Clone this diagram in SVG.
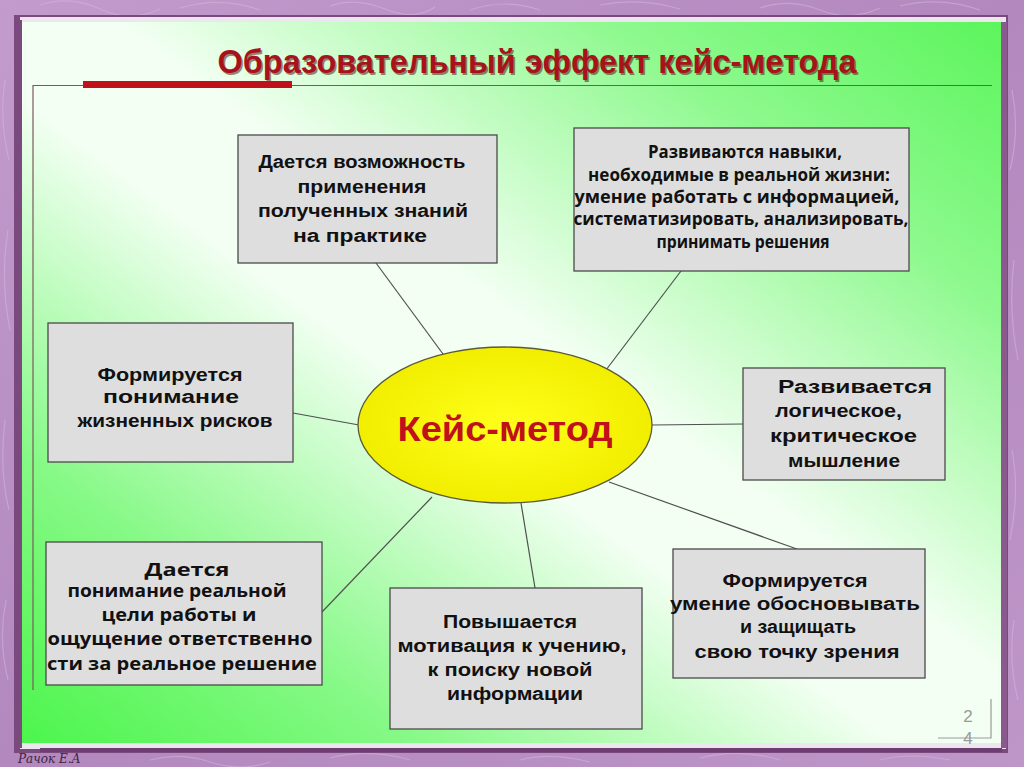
<svg xmlns="http://www.w3.org/2000/svg" width="1024" height="767" viewBox="0 0 1024 767">
  <defs>
    <linearGradient id="bgPurple" x1="0" y1="0" x2="1" y2="1">
      <stop offset="0" stop-color="#c39bcc"/>
      <stop offset="0.5" stop-color="#b288be"/>
      <stop offset="1" stop-color="#bf96c8"/>
    </linearGradient>
    <linearGradient id="slideGrad" x1="0" y1="1" x2="1" y2="0">
      <stop offset="0" stop-color="#4cf54c"/>
      <stop offset="0.2" stop-color="#86f986"/>
      <stop offset="0.45" stop-color="#f4fff4"/>
      <stop offset="0.55" stop-color="#f2fff2"/>
      <stop offset="0.8" stop-color="#8ef98e"/>
      <stop offset="1" stop-color="#5cf55c"/>
    </linearGradient>
    <radialGradient id="ellGrad" cx="0.5" cy="0.5" r="0.5">
      <stop offset="0" stop-color="#ffff1a"/>
      <stop offset="1" stop-color="#f2ee00"/>
    </radialGradient>
  </defs>
  <style>
    .box { fill: #dedede; stroke: #4a4a4a; stroke-width: 1.3; }
    .conn line { stroke: #505050; stroke-width: 1.2; }
    .ta { font-family: "Liberation Sans", Arial, sans-serif; font-weight: bold; font-size: 18px; fill: #111; }
    .tc { font-family: "Open Sans", "Liberation Sans", sans-serif; font-weight: bold; font-size: 17px; fill: #111; }
    .mid { text-anchor: middle; }
  </style>

  <!-- purple textured backdrop -->
  <rect x="0" y="0" width="1024" height="767" fill="url(#bgPurple)"/>
  <g fill="none" stroke="#d6b8dc" stroke-width="1.2" opacity="0.55">
    <path d="M40 5 q30 -10 60 4 t60 0 M180 8 q40 -12 80 2 M330 6 q25 -9 55 3 t50 -2 M470 10 q35 -12 70 0 M600 5 q40 -8 80 4 M760 8 q30 -10 60 2 t60 -2 M900 6 q40 -10 80 4"/>
    <path d="M5 80 q-6 40 4 80 M8 230 q-8 50 2 100 M5 420 q-6 50 4 90 M6 600 q-8 40 2 80"/>
    <path d="M1012 90 q8 40 -2 80 M1014 260 q-6 50 4 100 M1012 450 q8 40 -2 90 M1014 620 q-6 40 4 80"/>
    <path d="M150 760 q30 -8 60 2 t60 0 M330 758 q40 -10 80 2 M520 760 q30 -8 70 2 M700 758 q40 -10 80 2 M880 760 q30 -8 70 0"/>
  </g>

  <!-- slide frame and paper -->
  <rect x="14" y="15" width="994" height="738" fill="#7a4a7e"/>
  <rect x="20" y="17" width="986" height="732" fill="#ece6ee"/>
  <rect x="16" y="20" width="6" height="728" fill="#7a4a7e"/>
  <rect x="1001" y="22" width="6" height="726" fill="#8a5a8e"/>
  <rect x="40" y="748" width="962" height="4" fill="#6e3e72"/>
  <rect x="22" y="22" width="979" height="721" fill="url(#slideGrad)"/>

  <!-- title -->
  <g id="title">
    <text x="538.5" y="74.5" class="mid" font-family="'Liberation Sans', Arial, sans-serif" font-weight="bold" font-size="34" fill="#4a0a0a" opacity="0.5" textLength="639" lengthAdjust="spacingAndGlyphs">Образовательный эффект кейс-метода</text>
    <text x="537" y="73" class="mid" font-family="'Liberation Sans', Arial, sans-serif" font-weight="bold" font-size="34" fill="#a8121a" textLength="639" lengthAdjust="spacingAndGlyphs">Образовательный эффект кейс-метода</text>
  </g>
  <g id="title-rule">
    <path d="M33 690 V85.5 H992" fill="none" stroke="#7a5a5a" stroke-width="1.2"/>
    <rect x="83" y="81" width="209" height="7" fill="#c0101a"/>
  </g>

  <!-- connectors -->
  <g id="connectors" class="conn">
    <line x1="376" y1="263" x2="443" y2="354"/>
    <line x1="681" y1="271" x2="606" y2="370"/>
    <line x1="293" y1="413" x2="359" y2="425"/>
    <line x1="743" y1="424" x2="652" y2="425"/>
    <line x1="322" y1="612" x2="432" y2="497"/>
    <line x1="535" y1="588" x2="521" y2="503"/>
    <line x1="797" y1="549" x2="609" y2="482"/>
  </g>

  <!-- center -->
  <g id="node-center">
    <ellipse cx="505" cy="425" rx="147" ry="78" fill="url(#ellGrad)" stroke="#5a5a3a" stroke-width="1.3"/>
    <text x="505" y="441" class="mid" font-family="'Liberation Sans', Arial, sans-serif" font-weight="bold" font-size="35" fill="#c0101a" textLength="215" lengthAdjust="spacingAndGlyphs">Кейс-метод</text>
  </g>

  <g id="node-practice">
    <rect class="box" x="238" y="135" width="259" height="128"/>
    <text class="ta mid" x="362" y="168" textLength="207" lengthAdjust="spacingAndGlyphs">Дается возможность</text>
    <text class="ta mid" x="362" y="193" textLength="129" lengthAdjust="spacingAndGlyphs">применения</text>
    <text class="ta mid" x="363" y="217" textLength="210" lengthAdjust="spacingAndGlyphs">полученных знаний</text>
    <text class="ta mid" x="360" y="242" textLength="134" lengthAdjust="spacingAndGlyphs">на практике</text>
  </g>

  <g id="node-skills">
    <rect class="box" x="574" y="128" width="335" height="143"/>
    <text class="tc mid" x="745" y="158" textLength="194" lengthAdjust="spacingAndGlyphs">Развиваются навыки,</text>
    <text class="tc mid" x="739" y="181" textLength="302" lengthAdjust="spacingAndGlyphs">необходимые в реальной жизни:</text>
    <text class="tc mid" x="737" y="203" textLength="325" lengthAdjust="spacingAndGlyphs">умение работать  с информацией,</text>
    <text class="tc mid" x="741" y="225" textLength="335" lengthAdjust="spacingAndGlyphs">систематизировать, анализировать,</text>
    <text class="tc mid" x="743" y="248" textLength="173" lengthAdjust="spacingAndGlyphs">принимать решения</text>
  </g>

  <g id="node-risks">
    <rect class="box" x="48" y="323" width="245" height="139"/>
    <text class="ta mid" x="170" y="381" textLength="145" lengthAdjust="spacingAndGlyphs">Формируется</text>
    <text class="ta mid" x="171" y="403" textLength="136" lengthAdjust="spacingAndGlyphs">понимание</text>
    <text class="ta mid" x="175" y="427" textLength="195" lengthAdjust="spacingAndGlyphs">жизненных  рисков</text>
  </g>

  <g id="node-thinking">
    <rect class="box" x="743" y="368" width="202" height="112"/>
    <text class="ta" x="778" y="393" textLength="154" lengthAdjust="spacingAndGlyphs">Развивается</text>
    <text class="ta" x="775" y="417" textLength="127" lengthAdjust="spacingAndGlyphs">логическое,</text>
    <text class="ta" x="770" y="442" textLength="147" lengthAdjust="spacingAndGlyphs">критическое</text>
    <text class="ta" x="788" y="467" textLength="112" lengthAdjust="spacingAndGlyphs">мышление</text>
  </g>

  <g id="node-responsibility">
    <rect class="box" x="46" y="542" width="276" height="143"/>
    <text class="tc mid" x="187" y="576" textLength="85" lengthAdjust="spacingAndGlyphs">Дается</text>
    <text class="tc mid" x="177" y="597" textLength="219" lengthAdjust="spacingAndGlyphs">понимание реальной</text>
    <text class="tc mid" x="179" y="621" textLength="155" lengthAdjust="spacingAndGlyphs">цели работы и</text>
    <text class="tc mid" x="180" y="645" textLength="265" lengthAdjust="spacingAndGlyphs">ощущение ответственно</text>
    <text class="tc mid" x="182" y="670" textLength="270" lengthAdjust="spacingAndGlyphs">сти за реальное решение</text>
  </g>

  <g id="node-motivation">
    <rect class="box" x="390" y="588" width="252" height="141"/>
    <text class="ta mid" x="510" y="628" textLength="134" lengthAdjust="spacingAndGlyphs">Повышается</text>
    <text class="ta mid" x="512" y="652" textLength="229" lengthAdjust="spacingAndGlyphs">мотивация к учению,</text>
    <text class="ta mid" x="510" y="676" textLength="165" lengthAdjust="spacingAndGlyphs">к поиску новой</text>
    <text class="ta mid" x="515" y="700" textLength="136" lengthAdjust="spacingAndGlyphs">информации</text>
  </g>

  <g id="node-defend">
    <rect class="box" x="673" y="549" width="252" height="129"/>
    <text class="ta mid" x="795" y="587" textLength="145" lengthAdjust="spacingAndGlyphs">Формируется</text>
    <text class="ta mid" x="795" y="610" textLength="250" lengthAdjust="spacingAndGlyphs">умение обосновывать</text>
    <text class="ta mid" x="798" y="633" textLength="116" lengthAdjust="spacingAndGlyphs">и защищать</text>
    <text class="ta mid" x="797" y="658" textLength="205" lengthAdjust="spacingAndGlyphs">свою точку зрения</text>
  </g>

  <!-- page number -->
  <g id="page-number">
    <path d="M991 699 V738 H938" fill="none" stroke="#9a9a9a" stroke-width="1.2"/>
    <text x="968" y="722" class="mid" font-family="'Liberation Sans', Arial, sans-serif" font-size="17" fill="#999">2</text>
    <text x="968" y="744" class="mid" font-family="'Liberation Sans', Arial, sans-serif" font-size="17" fill="#999">4</text>
  </g>

  <text x="18" y="763" font-family="'DejaVu Serif', serif" font-style="italic" font-size="12" fill="#3e2440">Рачок Е.А</text>
</svg>
